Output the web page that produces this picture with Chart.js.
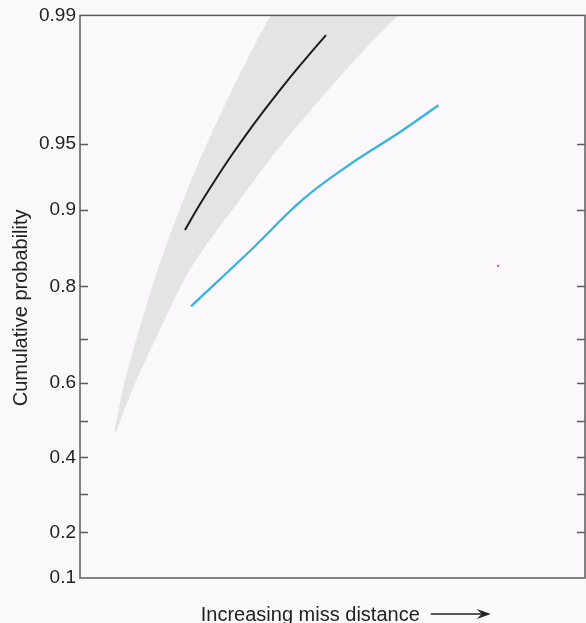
<!DOCTYPE html>
<html>
<head>
<meta charset="utf-8">
<script src="https://cdn.jsdelivr.net/npm/chart.js@4/dist/chart.umd.min.js"></script>
<style>
  html, body { margin: 0; padding: 0; background: #fbf8fb; }
  canvas { display: block; }
</style>
</head>
<body>
<canvas id="missChart" width="586" height="623"></canvas>
<script>
// probability ticks on the y axis (Rayleigh probability paper)
const tickProbs = [0.1, 0.2, 0.3, 0.4, 0.5, 0.6, 0.7, 0.8, 0.9, 0.95, 0.99];
const tickLabels = ["0.1", "0.2", "", "0.4", "", "0.6", "", "0.8", "0.9", "0.95", "0.99"];

// shaded band: left and right edges at the same probabilities
const bandProbs = [0.4695, 0.5206, 0.6053, 0.7038, 0.8012, 0.8527, 0.9082, 0.9457, 0.9695, 0.9815, 0.9876, 0.99, 0.9918];
const bandLeft  = [6.73, 7.52, 8.91, 11.25, 14.36, 16.69, 20.38, 24.5, 29.03, 32.95, 36.06, 37.78, 39.31];
const bandRight = [7.13, 8.5, 11.15, 15.11, 20.0, 24.16, 31.49, 38.91, 47.21, 54.22, 59.86, 63.01, 65.82];

// black curve
const blackX = [20.79, 23.66, 26.75, 30.02, 33.52, 37.23, 41.13, 45.21, 48.71];
const blackP = [0.8782, 0.9043, 0.9257, 0.9431, 0.957, 0.9679, 0.9764, 0.9828, 0.9869];

// cyan curve
const cyanX = [22.0, 33.7, 44.2, 53.5, 62.7, 71.0];
const cyanP = [0.7654, 0.8527, 0.9098, 0.9373, 0.955, 0.968];

// the small red speck
const speckX = [82.8];
const speckP = [0.832];

// y position on Rayleigh paper
const rayleigh = p => Math.sqrt(-Math.log(1 - p));
const toPoints = (xs, ps) => xs.map((x, i) => ({ x: x, y: rayleigh(ps[i]) }));

const bandPoints = toPoints(bandLeft, bandProbs)
    .concat(toPoints(bandRight, bandProbs).reverse());

const titleFont = { family: "'Liberation Sans', Arial, sans-serif", size: 20 };
const xTitleText = "Increasing miss distance" + "\u00a0".repeat(8);

// frame + inward tick marks on both sides
const frameAndTicks = {
    id: "frameAndTicks",
    afterDatasetsDraw(chart) {
        const { ctx, chartArea: { left, right, top, bottom }, scales: { y } } = chart;
        ctx.save();
        ctx.strokeStyle = "#5c5c5c";
        ctx.lineWidth = 1.5;
        ctx.strokeRect(left, top, right - left, bottom - top);
        ctx.lineWidth = 1.3;
        tickProbs.forEach(p => {
            const py = Math.round(y.getPixelForValue(rayleigh(p))) + 0.5;
            if (py <= top + 2 || py >= bottom - 2) return;
            ctx.beginPath();
            ctx.moveTo(left, py); ctx.lineTo(left + 8, py);
            ctx.moveTo(right, py); ctx.lineTo(right - 8, py);
            ctx.stroke();
        });
        ctx.restore();
    }
};

// long arrow after the x axis title
const titleArrow = {
    id: "titleArrow",
    afterDraw(chart) {
        const { ctx, scales: { x } } = chart;
        ctx.save();
        ctx.font = titleFont.size + "px " + titleFont.family;
        const full = ctx.measureText(xTitleText).width;
        const words = ctx.measureText("Increasing miss distance").width;
        const start = (x.left + x.right) / 2 - full / 2;
        const x1 = start + words + 11;
        const x2 = x1 + 60;
        const ay = 614;
        ctx.strokeStyle = "#222";
        ctx.fillStyle = "#222";
        ctx.lineWidth = 1.5;
        ctx.beginPath();
        ctx.moveTo(x1, ay); ctx.lineTo(x2 - 8, ay);
        ctx.stroke();
        ctx.beginPath();
        ctx.moveTo(x2, ay);
        ctx.lineTo(x2 - 14, ay - 5);
        ctx.lineTo(x2 - 9, ay);
        ctx.lineTo(x2 - 14, ay + 5);
        ctx.closePath();
        ctx.fill();
        ctx.restore();
    }
};

new Chart(document.getElementById("missChart"), {
    type: "scatter",
    data: {
        datasets: [
            {
                data: bandPoints,
                order: 1,
                showLine: true,
                fill: "shape",
                backgroundColor: "#e4e4e4",
                borderWidth: 0,
                borderColor: "rgba(0,0,0,0)",
                pointRadius: 0,
                tension: 0.3
            },
            {
                data: toPoints(blackX, blackP),
                order: 0,
                showLine: true,
                borderColor: "#1c1c1c",
                borderWidth: 2,
                pointRadius: 0,
                tension: 0.4
            },
            {
                data: toPoints(cyanX, cyanP),
                order: 0,
                showLine: true,
                borderColor: "#3ab3da",
                borderWidth: 2.3,
                pointRadius: 0,
                tension: 0.4
            },
            {
                data: toPoints(speckX, speckP),
                order: 0,
                pointRadius: 1.2,
                pointBackgroundColor: "#e0607a",
                pointBorderWidth: 0
            }
        ]
    },
    options: {
        responsive: false,
        animation: false,
        layout: { autoPadding: false, padding: { top: 14, right: 1, left: 0, bottom: 0 } },
        plugins: {
            legend: { display: false },
            tooltip: { enabled: false }
        },
        scales: {
            x: {
                type: "linear",
                min: 0,
                max: 100,
                grid: { display: false, drawTicks: false },
                border: { display: false },
                ticks: { display: false },
                title: {
                    display: true,
                    text: xTitleText,
                    color: "#222",
                    font: { family: titleFont.family, size: titleFont.size, lineHeight: 0.75 },
                    padding: { top: 0, bottom: 0 }
                },
                afterFit: scale => { scale.height = 45; }
            },
            y: {
                type: "linear",
                min: rayleigh(0.1),
                max: rayleigh(0.99),
                grid: { display: false, drawTicks: false },
                border: { display: false },
                afterBuildTicks: scale => {
                    scale.ticks = tickProbs.map(p => ({ value: rayleigh(p) }));
                },
                ticks: {
                    autoSkip: false,
                    padding: 4,
                    color: "#222",
                    font: { family: titleFont.family, size: 19 },
                    callback: (value, index) => tickLabels[index]
                },
                title: {
                    display: true,
                    text: "Cumulative probability" + "\u00a0".repeat(4),
                    color: "#222",
                    font: { family: titleFont.family, size: titleFont.size },
                    padding: { top: 9, bottom: 0 }
                },
                afterFit: scale => { scale.width = 80; }
            }
        }
    },
    plugins: [frameAndTicks, titleArrow]
});
</script>
</body>
</html>
